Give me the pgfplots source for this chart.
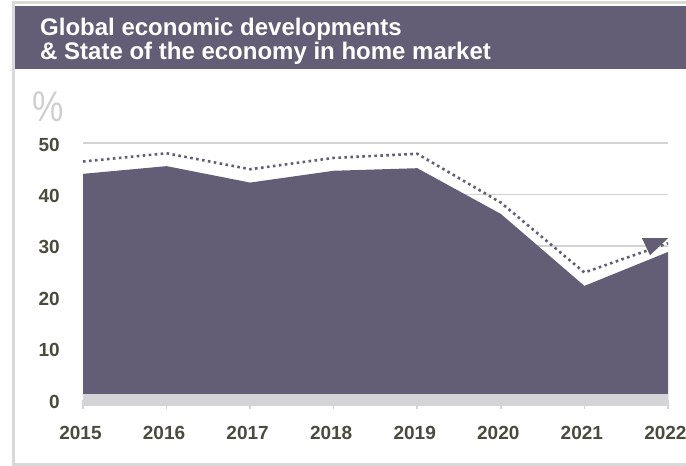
\documentclass[border=0pt]{standalone}
\usepackage{pgfplots}
\pgfplotsset{compat=1.18}
\usepackage{fontspec}
\setmainfont{Liberation Sans}
\definecolor{purp}{HTML}{635D75}
\definecolor{tick}{HTML}{4B4A3E}
\definecolor{gridc}{HTML}{D3D3D3}
\definecolor{band}{HTML}{D4D4D6}
\definecolor{frame}{HTML}{D9D9D9}
\definecolor{pct}{HTML}{CFCFCF}
\pgfdeclareplotmark{arrowtri}{%
  \pgfpathmoveto{\pgfpoint{-26bp}{5bp}}%
  \pgfpathlineto{\pgfpoint{0bp}{5bp}}%
  \pgfpathlineto{\pgfpoint{-18bp}{-12bp}}%
  \pgfpathclose\pgfusepathqfill}
\begin{document}
\begin{tikzpicture}
\useasboundingbox (0,0) rectangle (686bp,466bp);
% frame
\draw[frame, line width=3bp] (686bp,463bp) -- (13.5bp,463bp) -- (13.5bp,1.5bp) -- (686bp,1.5bp);
% header
\fill[purp] (15bp,397bp) rectangle (686bp,460bp);
\node[anchor=base west, inner sep=0, text=white, font=\fontsize{24bp}{24bp}\selectfont\bfseries] at (40bp,430bp) {Global economic developments};
\node[anchor=base west, inner sep=0, text=white, font=\fontsize{24bp}{24bp}\selectfont\bfseries] at (40bp,406bp) {\& State of the economy in home market};
\node[anchor=base west, inner sep=0, text=pct, xscale=0.82, font=\fontsize{43bp}{43bp}\selectfont] at (32bp,344bp) {\%};
\begin{axis}[
  at={(83bp,66bp)}, anchor=south west,
  scale only axis, width=585bp, height=257bp,
  xmin=2015, xmax=2022, ymin=0, ymax=50,
  clip=false,
  axis x line*=bottom, axis y line*=left,
  x axis line style={draw=none}, y axis line style={draw=none},
  xtick={2015,...,2022}, ytick={0,10,...,50},
  ymajorgrids, grid style={gridc, line width=1.6bp},
  ytick style={draw=none},
  xtick style={band, line width=1.5bp},
  tick align=outside, major tick length=8.5bp,
  /pgf/number format/assume math mode=true,
  xticklabel={\pgfmathprintnumber[1000 sep={}]{\tick}},
  ticklabel style={font=\fontsize{19bp}{19bp}\selectfont\bfseries, text=tick},
  yticklabel style={inner sep=0pt, anchor=east, xshift=-23bp+8.5bp, yshift=-1.5bp},
  xticklabel style={inner sep=0pt, anchor=center, yshift=-24bp, xshift=-2.5bp},
]
\addplot[fill=purp, draw=none] coordinates {
(2015,44.0) (2016,45.5) (2017,42.3) (2018,44.6) (2019,45.1) (2020,36.2) (2021,22.2) (2022,28.8)
} \closedcycle;
\addplot[band, line width=11bp] coordinates {(2015,0) (2022,0)};
\addplot[purp, line width=2.6bp, dash pattern=on 2.6bp off 3.4bp, mark=arrowtri, mark indices={8}, mark options={solid, fill=purp}] coordinates {
(2015,46.4) (2016,48.0) (2017,44.9) (2018,47.1) (2019,47.9) (2020,38.4) (2021,24.8) (2022,30.5)
};
\end{axis}
\end{tikzpicture}
\end{document}
